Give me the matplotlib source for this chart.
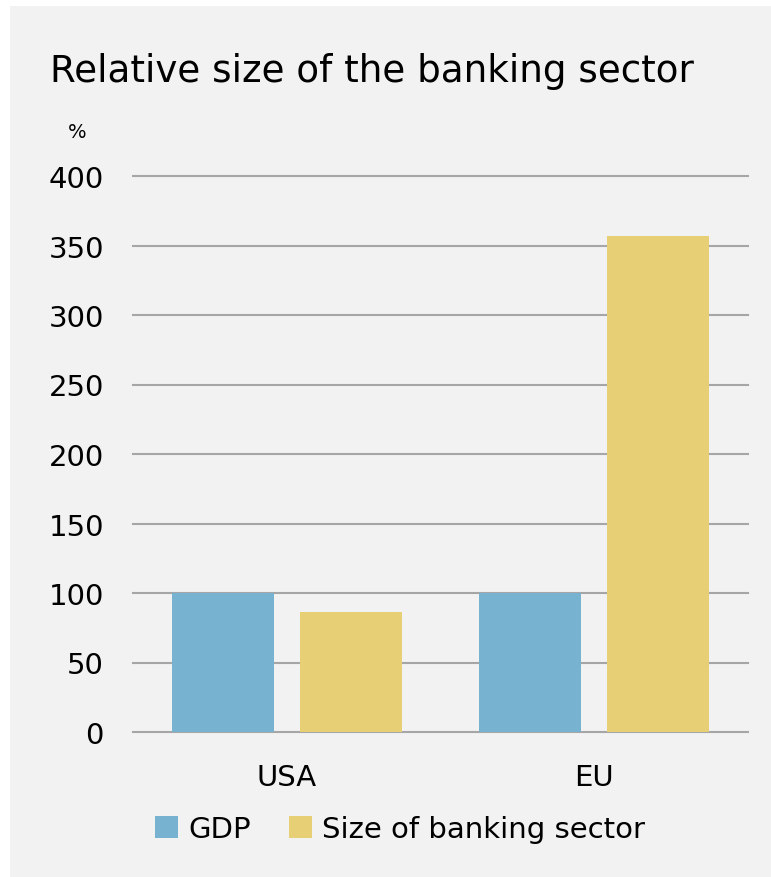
import matplotlib.pyplot as plt
import numpy as np
from matplotlib.patches import Rectangle

# data
regions = ["USA", "EU"]
gdp = [100, 100]
banking = [86, 357]
series_names = ["GDP", "Size of banking sector"]
y_ticks = [0, 50, 100, 150, 200, 250, 300, 350, 400]

blue = "#77b3d0"
yellow = "#e6cf74"
bg = "#f2f2f2"

plt.rcParams['font.family'] = ['DejaVu Sans']

fig = plt.figure(figsize=(7.71, 8.78), dpi=100)
fig.patch.set_facecolor("white")
# grey panel behind everything
fig.patches.append(Rectangle((10 / 771, 0), 1, 1 - 7 / 878, transform=fig.transFigure,
                             facecolor=bg, edgecolor="none", zorder=-10))

ax = fig.add_axes([133 / 771, 145 / 878, 615 / 771, 556 / 878])
ax.patch.set_alpha(0)

x = np.arange(len(regions))
w = 0.332
off = 0.208
ax.bar(x - off, gdp, width=w, color=blue, label=series_names[0], zorder=3)
ax.bar(x + off, banking, width=w, color=yellow, label=series_names[1], zorder=3)

ax.set_xlim(-0.5, 1.5)
ax.set_ylim(0, 400)
ax.set_yticks(y_ticks)
ax.set_xticks(x)
ax.set_xticklabels(regions)
ax.tick_params(axis="both", length=0, labelsize=21, colors="black")
ax.tick_params(axis="y", pad=21)
ax.tick_params(axis="x", pad=22)
ax.grid(axis="y", color="#a6a6a6", linewidth=1.5, zorder=0)
for gl in ax.get_ygridlines():
    gl.set_clip_on(False)
for s in ax.spines.values():
    s.set_visible(False)

fig.text(50 / 771, 1 - 72 / 878, "Relative size of the banking sector", fontsize=26.8,
         va="center", ha="left")
fig.text(77 / 771, 1 - 133 / 878, "%", fontsize=14, va="center", ha="center")

fig.legend(loc="center", bbox_to_anchor=(400 / 771, 1 - 830 / 878), ncol=2, frameon=False,
           fontsize=21, handlelength=0.8, handleheight=0.8, handletextpad=0.35,
           columnspacing=1.3)

fig.savefig("out.png", dpi=100, facecolor=fig.get_facecolor())
